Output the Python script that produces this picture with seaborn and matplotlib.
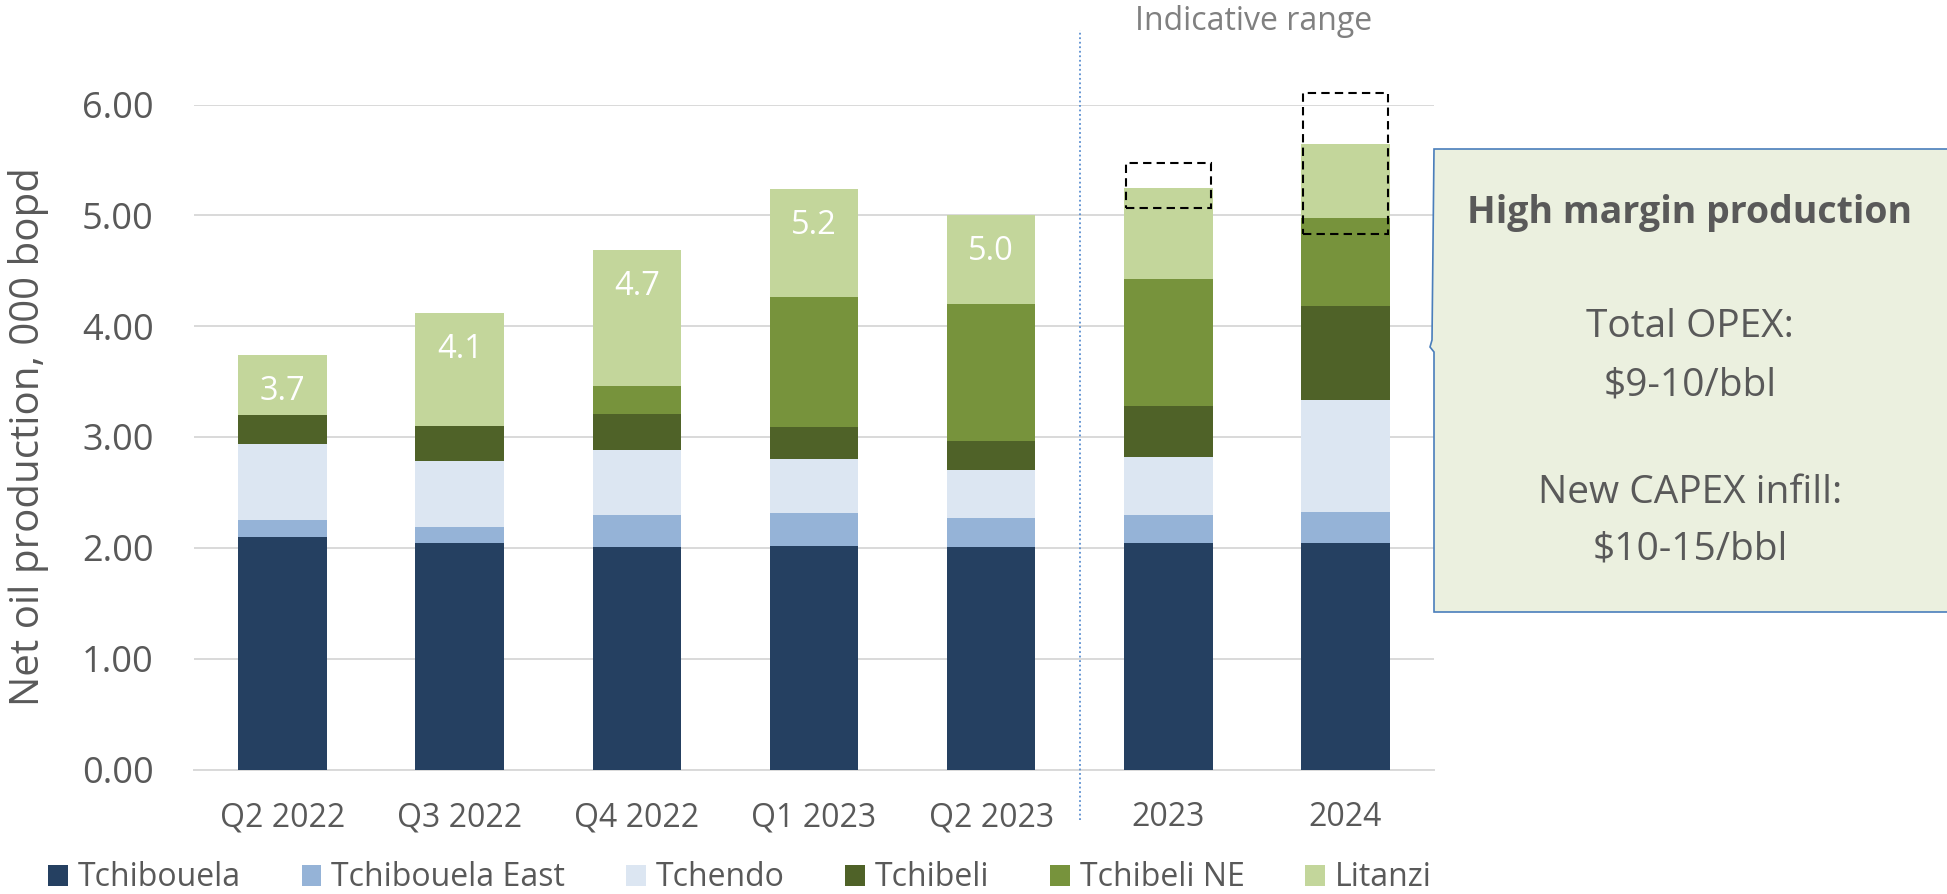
import matplotlib
matplotlib.use("Agg")
import matplotlib.pyplot as plt
import matplotlib.patches as mpatches
import seaborn as sns
import numpy as np

# ---------------- data ----------------
categories = ["Q2 2022", "Q3 2022", "Q4 2022", "Q1 2023", "Q2 2023", "2023", "2024"]
series_names = ["Tchibouela", "Tchibouela East", "Tchendo", "Tchibeli", "Tchibeli NE", "Litanzi"]
tchibouela = [2.10, 2.04, 2.01, 2.02, 2.01, 2.04, 2.04]
tchibouela_east = [0.15, 0.15, 0.29, 0.29, 0.26, 0.26, 0.28]
tchendo = [0.69, 0.59, 0.58, 0.49, 0.43, 0.52, 1.01]
tchibeli = [0.26, 0.32, 0.33, 0.29, 0.26, 0.46, 0.85]
tchibeli_ne = [0.00, 0.00, 0.25, 1.17, 1.24, 1.15, 0.80]
litanzi = [0.54, 1.02, 1.23, 0.98, 0.80, 0.82, 0.66]
total_labels = ["3.7", "4.1", "4.7", "5.2", "5.0", "", ""]
range_categories = ["2023", "2024"]
range_low = [5.07, 4.83]
range_high = [5.47, 6.10]
yticks = [0, 1, 2, 3, 4, 5, 6]

colors = ["#254061", "#95B3D7", "#DCE6F2", "#4F6228", "#77933C", "#C3D69B"]

W, H = 1947, 894
sns.set_style("white")
plt.rcParams["font.family"] = ["Open Sans", "DejaVu Sans"]
TXT = "#595959"

fig = plt.figure(figsize=(W / 100, H / 100), dpi=100)
ax = fig.add_axes([194 / W, 1 - 769.5 / H, (1434 - 194) / W, (769.5 - 104.5) / H])

series = [tchibouela, tchibouela_east, tchendo, tchibeli, tchibeli_ne, litanzi]
bottom = np.zeros(len(categories))
for name, vals, c in zip(series_names, series, colors):
    sns.barplot(x=categories, y=vals, bottom=bottom.copy(), color=c, saturation=1,
                width=0.5, ax=ax, label=name, linewidth=0, zorder=3)
    bottom = bottom + np.array(vals)
if ax.get_legend() is not None:
    ax.get_legend().remove()

# value labels
for i, lab in enumerate(total_labels):
    if lab:
        ax.text(i, bottom[i] - 0.33, lab, ha="center", va="center", color="white",
                fontsize=23.5, zorder=5)

# indicative range boxes
for cat, lo, hi in zip(range_categories, range_low, range_high):
    i = categories.index(cat)
    rect = mpatches.Rectangle((i - 0.24, lo), 0.48, hi - lo, fill=False,
                              edgecolor="black", linewidth=1.5, linestyle=(0, (4, 2.5)),
                              zorder=6, clip_on=False)
    ax.add_patch(rect)

ax.set_xlim(-0.5, 6.5)
ax.set_ylim(0, 6)
ax.set_yticks(yticks)
ax.set_yticklabels([f"{v:.2f}" for v in yticks])
ax.yaxis.grid(True, color="#D9D9D9", linewidth=1.4, zorder=0)
ax.set_axisbelow(True)
for s in ["top", "right", "left"]:
    ax.spines[s].set_visible(False)
ax.spines["bottom"].set_color("#D9D9D9")
ax.spines["bottom"].set_linewidth(1.4)
ax.tick_params(axis="x", length=0, pad=23, labelsize=23, labelcolor=TXT)
ax.tick_params(axis="y", length=0, pad=29, labelsize=26, labelcolor=TXT)
ax.set_xlabel("")
ax.set_ylabel("Net oil production, 000 bopd", fontsize=29, color=TXT)
ax.yaxis.set_label_coords((29 - 194) / (1434 - 194), 0.5)
ax.yaxis.label.set_va("center")

# divider line between actuals and indicative range
ax.axvline(4.5, ymin=-0.076, ymax=1.112, color="#5B8FD0", linewidth=1.3,
           linestyle=(0, (1, 1.5)), clip_on=False, zorder=4)

fig.text(1254 / W, 1 - 22 / H, "Indicative range", ha="center", va="center",
         fontsize=23, color="#808080")

# callout box
pts = [(1434, 149), (1960, 149), (1960, 612), (1434, 612), (1434, 352),
       (1430, 347), (1432, 340)]
poly = mpatches.Polygon([(x / W, 1 - y / H) for x, y in pts], closed=True,
                        transform=fig.transFigure, facecolor="#EBF0DF",
                        edgecolor="#4A7EBB", linewidth=1.2, zorder=10)
fig.add_artist(poly)
cx = 1690 / W
fig.text(cx, 1 - 213 / H, "High margin production", ha="center", va="center",
         fontsize=27, fontweight="bold", color=TXT, zorder=11)
for txt, y in [("Total OPEX:", 327), ("$9-10/bbl", 385),
               ("New CAPEX infill:", 493), ("$10-15/bbl", 550)]:
    fig.text(cx, 1 - y / H, txt, ha="center", va="center", fontsize=28,
             color=TXT, zorder=11)

# legend
handles, labels = ax.get_legend_handles_labels()
leg = fig.legend(handles, labels, loc="center left", ncol=6, frameon=False,
                 bbox_to_anchor=(48 / W, 1 - 878 / H), fontsize=23,
                 handlelength=0.62, handleheight=0.62, handletextpad=0.31,
                 columnspacing=1.9, borderpad=0, borderaxespad=0)
for t in leg.get_texts():
    t.set_color(TXT)

fig.savefig("out.png", dpi=100)
